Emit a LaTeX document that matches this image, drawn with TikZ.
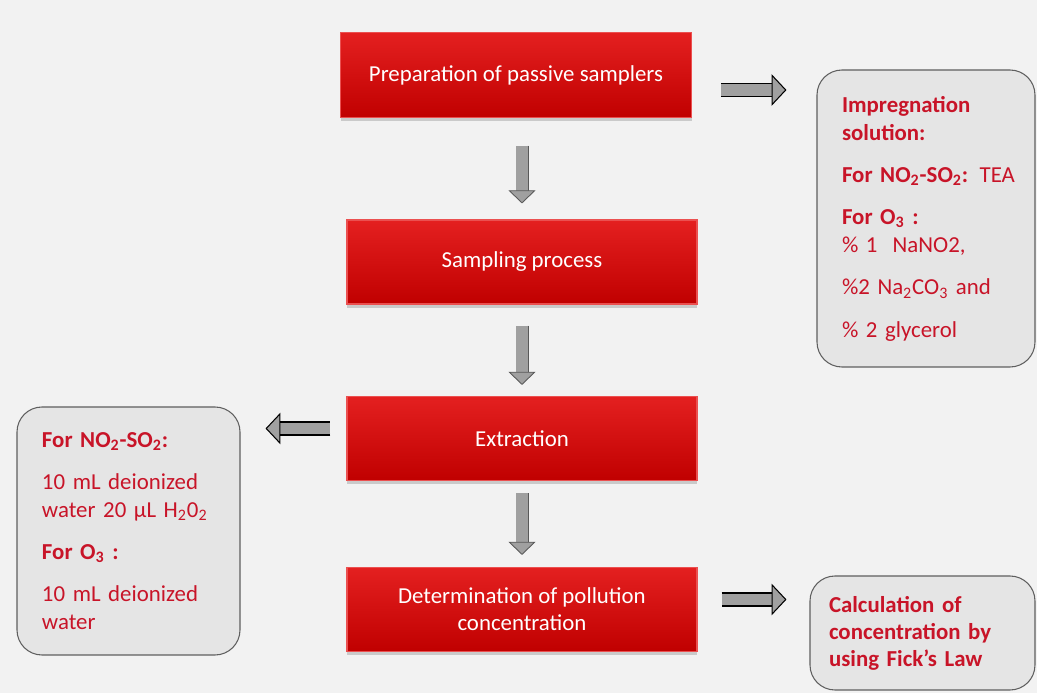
\documentclass[tikz,border=0pt]{standalone}
\usepackage{fontspec}
\setmainfont{Carlito}
\usetikzlibrary{arrows.meta,shadows}

\definecolor{boxred}{RGB}{192,0,0}
\definecolor{boxredtop}{RGB}{228,32,32}
\definecolor{textred}{RGB}{200,20,40}
\definecolor{panelgray}{RGB}{229,229,229}
\definecolor{arrowgray}{RGB}{160,160,160}
\definecolor{bggray}{RGB}{242,242,242}

\begin{document}
\begin{tikzpicture}[font=\fontsize{13}{15.5}\selectfont,
	stepred/.style={rectangle, top color=boxredtop, middle color=boxred, bottom color=boxred, draw={rgb,255:red,235;green,80;blue,80}, line width=0.6pt, text=white, align=center, minimum width=7cm, minimum height=1.68cm, drop shadow={shadow xshift=0pt, shadow yshift=-2pt, opacity=0.35}},
	panel/.style={rectangle, rounded corners=0.5cm, draw={rgb,255:red,95;green,95;blue,95}, line width=0.6pt, fill=panelgray, text=textred, align=left, font=\fontsize{13}{16}\selectfont},
	fatdown/.style={double=arrowgray, double distance=6.4pt, line width=0.5pt, draw=gray!70!black, -{Triangle[width=15.5pt, length=7.5pt, fill=arrowgray]}},
	fatside/.style={double=arrowgray, double distance=6.8pt, line width=0.6pt, draw=black, -{Triangle[width=18pt, length=8.5pt, fill=arrowgray]}}]
	\fill[bggray] (0,0) rectangle (20.74,-13.86);
	\useasboundingbox (0,0) rectangle (20.74,-13.86);
	% main steps
	\node[stepred, minimum width=7.02cm, minimum height=1.70cm] (prep) at (10.32,-1.50) {Preparation of passive samplers};
	\node[stepred] (samp) at (10.44,-5.24) {Sampling process};
	\node[stepred] (extr) at (10.44,-8.77) {Extraction};
	\node[stepred] (dete) at (10.44,-12.19) {Determination of pollution\\concentration};
	% side panels
	\node[panel, minimum width=4.36cm, minimum height=5.94cm, text width=3.36cm] (impr) at (18.52,-4.37) {\textbf{Impregnation}\\ \textbf{solution:}\\[8pt] \mbox{\textbf{For NO\textsubscript{2}-SO\textsubscript{2}:} TEA}\\[8pt] \textbf{For O\textsubscript{3} :}\\ \% 1\ \ NaNO2,\\[8pt] \%2 Na\textsubscript{2}CO\textsubscript{3} and\\[8pt] \% 2 glycerol};
	\node[panel, minimum width=4.46cm, minimum height=4.96cm, text width=3.46cm] (extw) at (2.57,-10.62) {\textbf{For NO\textsubscript{2}-SO\textsubscript{2}:}\\[8pt] 10 mL deionized\\ water 20 µL H\textsubscript{2}0\textsubscript{2}\\[8pt] \textbf{For O\textsubscript{3} :}\\[8pt] 10 mL deionized\\ water};
	\node[panel, minimum width=4.5cm, minimum height=2.28cm, text width=3.74cm, font=\bfseries\fontsize{13}{15.4}\selectfont] (fick) at (18.45,-12.66) {Calculation of\\concentration by\\using Fick’s Law};
	% block arrows
	\draw[fatdown, shorten <=0.55cm, shorten >=0.32cm] (prep.south -| samp.north) -- (samp.north);
	\draw[fatdown, shorten <=0.42cm, shorten >=0.22cm] (samp.south) -- (extr.north);
	\draw[fatdown, shorten <=0.24cm, shorten >=0.24cm] (extr.south) -- (dete.north);
	\draw[fatside, shorten <=0.58cm, shorten >=0.60cm] ([yshift=-0.3cm]prep.east) -- ([yshift=-0.3cm]prep.east -| impr.west);
	\draw[fatside, shorten <=0.32cm, shorten >=0.50cm] ([yshift=0.2cm]extr.west) -- ([yshift=0.2cm]extr.west -| extw.east);
	\draw[fatside, shorten <=0.48cm, shorten >=0.46cm] ([yshift=0.2cm]dete.east) -- ([yshift=0.2cm]dete.east -| fick.west);
\end{tikzpicture}
\end{document}
